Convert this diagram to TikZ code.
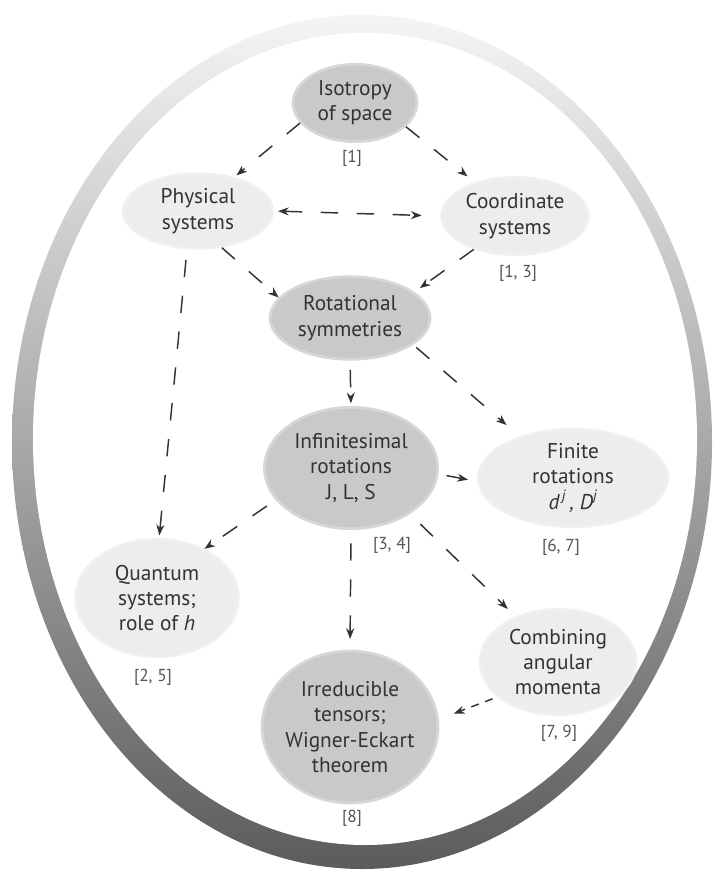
\documentclass[tikz,border=0pt]{standalone}
\usepackage{fontspec}
\setmainfont{PT Sans}
\usetikzlibrary{shapes.geometric,arrows.meta}
\definecolor{ink}{HTML}{333333}
\definecolor{darkfill}{HTML}{C9C9C9}
\definecolor{lightfill}{HTML}{EDEDED}
\definecolor{labelc}{HTML}{555555}
\begin{document}
\begin{tikzpicture}[x=0.75pt,y=-0.75pt,
  >={Stealth[length=8pt,width=6pt,inset=2.5pt]},
  base/.style={ellipse, inner sep=0pt, align=center, text=ink, font=\fontsize{16}{19}\selectfont},
  darknode/.style={base, fill=darkfill, draw=darkfill!75!white, line width=2pt},
  lightnode/.style={base, fill=lightfill, draw=lightfill!85!white, line width=2pt},
  reflabel/.style={text=labelc, font=\fontsize{13}{15}\selectfont},
  arr/.style={draw=ink, line width=1.1pt, dash pattern=on 13pt off 14pt, ->}]
\useasboundingbox (0,0) rectangle (716,873);
\fill[white] (0,0) rectangle (716,873);
% outer ring
\shade[top color=black!4, bottom color=black!64] (362,442) ellipse [x radius=350, y radius=427];
\fill[white] (365,439) ellipse [x radius=332, y radius=406];

% nodes
\node[darknode, minimum width=93pt, minimum height=58pt] (iso) at (355,103) {Isotropy\\of space};
\node[lightnode, minimum width=112pt, minimum height=56pt] (phys) at (198,211) {Physical\\systems};
\node[lightnode, minimum width=110pt, minimum height=58pt] (coord) at (515,216) {Coordinate\\systems};
\node[darknode, minimum width=120pt, minimum height=62pt] (rot) at (350,318) {Rotational\\symmetries};
\node[darknode, minimum width=130pt, minimum height=91pt] (inf) at (351,468) {Infinitesimal\\rotations\\J, L, S};
\node[lightnode, minimum width=142pt, minimum height=71pt] (finite) at (573,478) {Finite\\rotations\\\textit{d\textsuperscript{\,j}\,, D\textsuperscript{j}}};
\node[lightnode, minimum width=122pt, minimum height=88pt] (quantum) at (157,598) {Quantum\\systems;\\role of \textit{h}};
\node[lightnode, minimum width=117pt, minimum height=79pt] (comb) at (558,662) {Combining\\angular\\momenta};
\node[darknode, minimum width=132pt, minimum height=114pt, inner xsep=-6pt] (irr) at (350,727) {Irreducible\\tensors;\\Wigner-Eckart\\theorem};

% reference labels
\node[reflabel] (l1) at (352,158) {[1]};
\node[reflabel] (l13) at (518,273) {[1, 3]};
\node[reflabel] (l34) at (392,545) {[3, 4]};
\node[reflabel] (l67) at (561,547) {[6, 7]};
\node[reflabel] (l25) at (153,677) {[2, 5]};
\node[reflabel] (l79) at (559,733) {[7, 9]};
\node[reflabel] (l8) at (352,818) {[8]};

% connectors
\draw[arr, shorten >=2pt] (iso.200) -- (phys.43);
\draw[arr, shorten >=7pt] (iso.335) -- (coord.140);
\draw[arr, <->, shorten <=3pt, shorten >=14pt] (phys.east) -- (coord.west);
\draw[arr] (phys.303) -- (rot.164);
\draw[arr, shorten >=5pt] (coord.219) -- (rot.22);
\draw[arr, shorten <=8pt, shorten >=2pt] (phys.254) -- (quantum.88);
\draw[arr, shorten <=7pt, shorten >=2pt] (rot.south) -- (inf.north);
\draw[arr, shorten <=3pt, shorten >=13pt] (rot.337) -- (finite.142);
\draw[arr, shorten <=6pt, shorten >=7pt] (inf.-4) -- (finite.182);
\draw[arr, shorten <=8pt] (inf.203) -- (quantum.46);
\draw[arr, shorten <=10pt, shorten >=8pt] (inf.south) -- (irr.north);
\draw[arr, shorten <=11pt, shorten >=8pt] (inf.322) -- (comb.133);
\draw[arr, dash pattern=on 6pt off 5pt, shorten <=4pt, shorten >=12pt] (comb.210) -- (irr.5);
\end{tikzpicture}
\end{document}
